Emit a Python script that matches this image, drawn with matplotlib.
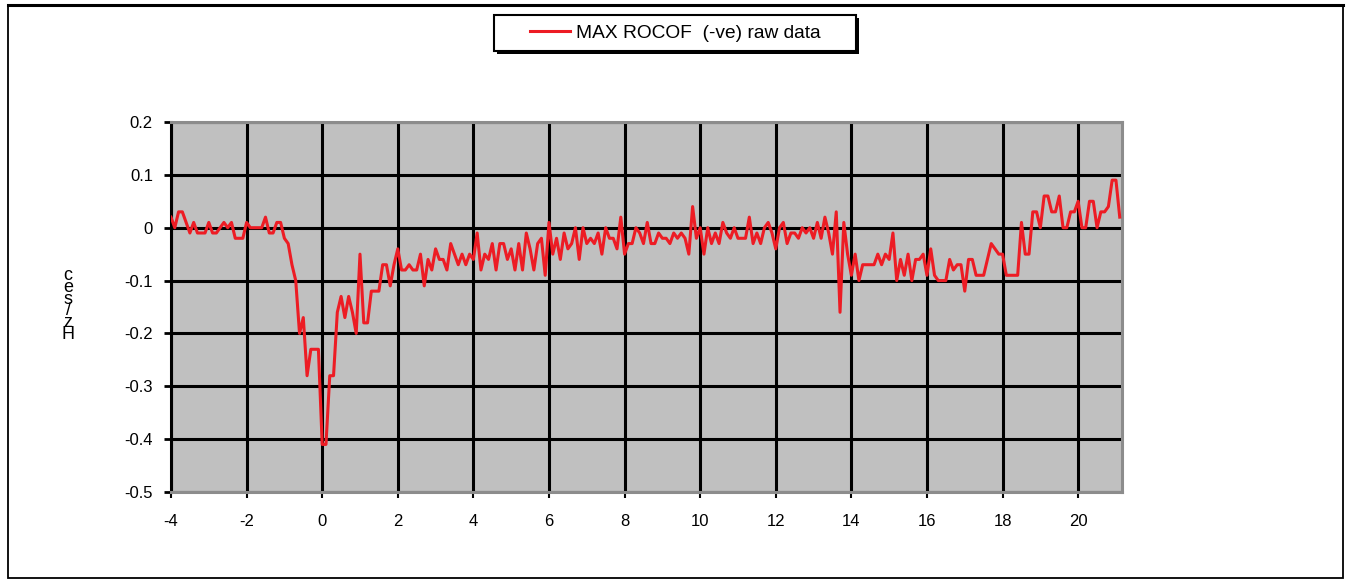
import numpy as np
import matplotlib
matplotlib.use("Agg")
import matplotlib.pyplot as plt
from matplotlib.patches import Rectangle

plt.rcParams['font.family'] = ['Liberation Sans', 'DejaVu Sans']
plt.rcParams['axes.unicode_minus'] = False

# Time axis (s) and maximum negative ROCOF (Hz/sec), sampled every 0.1 s
t_start = -4.0
t_step = 0.1
rocof = [
    # -4.0 .. -1.1
    0.02, 0.0, 0.03, 0.03, 0.01, -0.01, 0.01, -0.01, -0.01, -0.01,
    0.01, -0.01, -0.01, 0.0, 0.01, 0.0, 0.01, -0.02, -0.02, -0.02,
    0.01, 0.0, 0.0, 0.0, 0.0, 0.02, -0.01, -0.01, 0.01, 0.01,
    # -1.0 .. -0.1
    -0.02, -0.03, -0.07, -0.10, -0.20, -0.17, -0.28, -0.23, -0.23, -0.23,
    # 0.0 .. 0.9
    -0.41, -0.41, -0.28, -0.28, -0.16, -0.13, -0.17, -0.13, -0.16, -0.20,
    # 1.0 .. 1.9
    -0.05, -0.18, -0.18, -0.12, -0.12, -0.12, -0.07, -0.07, -0.11, -0.07,
    # 2.0 .. 2.9
    -0.04, -0.08, -0.08, -0.07, -0.08, -0.08, -0.05, -0.11, -0.06, -0.08,
    # 3.0 .. 3.9
    -0.04, -0.06, -0.06, -0.08, -0.03, -0.05, -0.07, -0.05, -0.07, -0.05,
    # 4.0 .. 4.9
    -0.06, -0.01, -0.08, -0.05, -0.06, -0.03, -0.08, -0.03, -0.03, -0.06,
    # 5.0 .. 5.9
    -0.04, -0.08, -0.03, -0.08, -0.01, -0.04, -0.08, -0.03, -0.02, -0.09,
    # 6.0 .. 6.9
    0.01, -0.05, -0.02, -0.06, -0.01, -0.04, -0.03, 0.0, -0.06, 0.0,
    # 7.0 .. 7.9
    -0.03, -0.02, -0.03, -0.01, -0.05, 0.0, -0.02, -0.02, -0.04, 0.02,
    # 8.0 .. 8.9
    -0.05, -0.03, -0.03, 0.0, -0.01, -0.03, 0.01, -0.03, -0.03, -0.01,
    # 9.0 .. 9.9
    -0.02, -0.02, -0.03, -0.01, -0.02, -0.01, -0.02, -0.05, 0.04, -0.02,
    # 10.0 .. 10.9
    0.0, -0.05, 0.0, -0.03, -0.01, -0.03, 0.01, -0.01, -0.02, 0.0,
    # 11.0 .. 11.9
    -0.02, -0.02, -0.02, 0.02, -0.03, -0.01, -0.03, 0.0, 0.01, -0.01,
    # 12.0 .. 12.9
    -0.04, 0.0, 0.01, -0.03, -0.01, -0.01, -0.02, 0.0, -0.01, 0.0,
    # 13.0 .. 13.9
    -0.02, 0.01, -0.02, 0.02, -0.01, -0.05, 0.03, -0.16, 0.01, -0.05,
    # 14.0 .. 14.9
    -0.09, -0.05, -0.10, -0.07, -0.07, -0.07, -0.07, -0.05, -0.07, -0.05,
    # 15.0 .. 15.9
    -0.06, -0.01, -0.10, -0.06, -0.09, -0.05, -0.10, -0.06, -0.06, -0.05,
    # 16.0 .. 16.9
    -0.09, -0.04, -0.09, -0.10, -0.10, -0.10, -0.06, -0.08, -0.07, -0.07,
    # 17.0 .. 17.9
    -0.12, -0.06, -0.06, -0.09, -0.09, -0.09, -0.06, -0.03, -0.04, -0.05,
    # 18.0 .. 18.9
    -0.05, -0.09, -0.09, -0.09, -0.09, 0.01, -0.05, -0.05, 0.03, 0.03,
    # 19.0 .. 19.9
    0.0, 0.06, 0.06, 0.03, 0.03, 0.06, 0.0, 0.0, 0.03, 0.03,
    # 20.0 .. 21.1
    0.05, 0.0, 0.0, 0.05, 0.05, 0.0, 0.03, 0.03, 0.04, 0.09, 0.09, 0.02,
]
time_s = t_start + t_step * np.arange(len(rocof))

x_ticks = [-4, -2, 0, 2, 4, 6, 8, 10, 12, 14, 16, 18, 20]
y_ticks = [-0.5, -0.4, -0.3, -0.2, -0.1, 0.0, 0.1, 0.2]
y_tick_labels = ['-0.5', '-0.4', '-0.3', '-0.2', '-0.1', '0', '0.1', '0.2']
series_label = 'MAX ROCOF  (-ve) raw data'
y_label_chars = ['c', 'e', 's', '/', 'z', 'H']

W, H = 1351, 581
fig = plt.figure(figsize=(W / 100, H / 100), dpi=100)
fig.patch.set_facecolor('white')

def fx(px):
    return px / W

def fy(py):
    return 1 - py / H

# outer chart border
fig.add_artist(Rectangle((fx(8), fy(578)), fx(1343) - fx(8), fy(5) - fy(578),
                         transform=fig.transFigure, fill=False,
                         edgecolor='black', linewidth=1.3))
fig.add_artist(plt.Line2D([fx(8), fx(1343)], [fy(5), fy(5)],
                          transform=fig.transFigure, color='black', linewidth=2.2))

ax = fig.add_axes([fx(171), fy(492), fx(1122) - fx(171), fy(122) - fy(492)])
ax.set_facecolor('#C0C0C0')

line, = ax.plot(time_s, rocof, color='#ED1C24', linewidth=2.2, zorder=3,
                label=series_label)

ax.set_xlim(-4, 21.16)
ax.set_ylim(-0.5, 0.2)
ax.set_xticks(x_ticks)
ax.set_xticklabels([str(v) for v in x_ticks])
ax.set_yticks(y_ticks)
ax.set_yticklabels(y_tick_labels)
ax.grid(True, color='black', linewidth=2.2, zorder=1)
ax.set_axisbelow(True)

ax.tick_params(axis='y', direction='out', length=5, width=2, color='black',
               labelsize=12, pad=8)
ax.tick_params(axis='x', direction='out', length=4, width=1.5, color='black',
               labelsize=12, pad=12)

for side in ['top', 'right', 'bottom']:
    ax.spines[side].set_color('#8C8C8C')
    ax.spines[side].set_linewidth(2.2)
ax.spines['left'].set_color('black')
ax.spines['left'].set_linewidth(2.2)

# stacked unit label on the left
fig.text(fx(68), fy(305), '\n'.join(y_label_chars), ha='center', va='center',
         multialignment='center', fontsize=13, linespacing=0.6)

# legend box with drop shadow
lx0, ly0, lx1, ly1 = 494, 15, 856, 51
fig.add_artist(Rectangle((fx(lx0 + 3), fy(ly1 + 3)), fx(lx1) - fx(lx0), fy(ly0) - fy(ly1),
                         transform=fig.transFigure, facecolor='black',
                         edgecolor='black', linewidth=0, zorder=5))
fig.add_artist(Rectangle((fx(lx0), fy(ly1)), fx(lx1) - fx(lx0), fy(ly0) - fy(ly1),
                         transform=fig.transFigure, facecolor='white',
                         edgecolor='black', linewidth=1.5, zorder=6))
leg = fig.legend(handles=[line], labels=[series_label], loc='center',
                 bbox_to_anchor=(fx((lx0 + lx1) / 2), fy((ly0 + ly1) / 2)),
                 frameon=False, fontsize=13.8, handlelength=2.1,
                 handletextpad=0.3, borderpad=0)
leg.set_zorder(7)

fig.savefig('out.png', dpi=100, facecolor='white')
